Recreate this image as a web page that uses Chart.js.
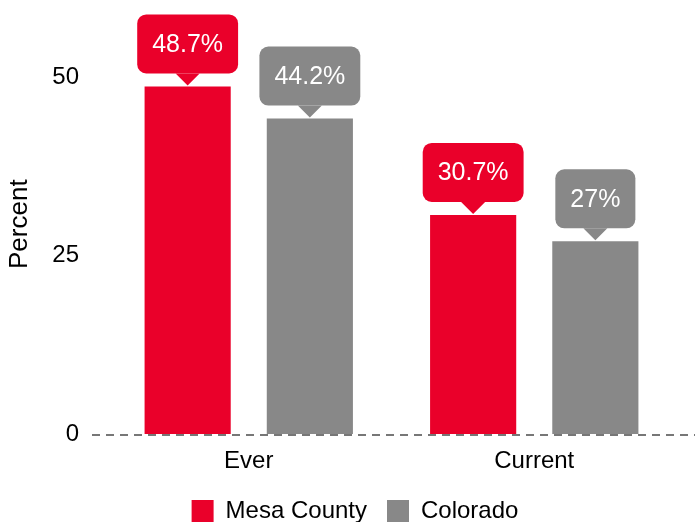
<!DOCTYPE html>
<html>
<head>
<meta charset="utf-8">
<script src="https://cdn.jsdelivr.net/npm/chart.js@4.4.0/dist/chart.umd.min.js"></script>
<style>
  html, body { margin: 0; padding: 0; background: #fff; overflow: hidden; }
  #wrap { width: 695px; height: 533px; position: relative; }
</style>
</head>
<body>
<div id="wrap"><canvas id="chart"></canvas></div>
<script>
const categories = ["Ever", "Current"];
const mesaCounty = [48.7, 30.7];
const colorado = [44.2, 27];
const mesaLabels = ["48.7%", "30.7%"];
const coloradoLabels = ["44.2%", "27%"];
const yTicks = [0, 25, 50];

const RED = "#EA002A";
const GRAY = "#888888";
const FONT = "'Liberation Sans', Arial, sans-serif";

// callout bubbles sitting above each bar
const calloutPlugin = {
    id: "callouts",
    afterDatasetsDraw(chart) {
        const ctx = chart.ctx;
        const texts = [mesaLabels, coloradoLabels];
        ctx.save();
        ctx.font = "25px " + FONT;
        chart.data.datasets.forEach(function(ds, di) {
            chart.getDatasetMeta(di).data.forEach(function(bar, i) {
                const txt = texts[di][i];
                const w = ctx.measureText(txt).width + 30;
                const h = 59;
                const tip = bar.y - 1;
                const bottom = tip - 12;
                const top = bottom - h;
                const left = bar.x - w / 2;
                ctx.fillStyle = ds.backgroundColor;
                ctx.beginPath();
                ctx.roundRect(left, top, w, h, 9);
                ctx.fill();
                ctx.beginPath();
                ctx.moveTo(bar.x - 12, bottom);
                ctx.lineTo(bar.x + 12, bottom);
                ctx.lineTo(bar.x, tip);
                ctx.closePath();
                ctx.fill();
                ctx.fillStyle = "#fff";
                ctx.textAlign = "center";
                ctx.textBaseline = "middle";
                ctx.fillText(txt, bar.x, top + h / 2 + 1);
            });
        });
        ctx.restore();
    }
};

// dashed zero line running across to the right edge
const baselinePlugin = {
    id: "baseline",
    afterDatasetsDraw(chart) {
        const ctx = chart.ctx;
        const y = chart.scales.y.getPixelForValue(0) + 1;
        ctx.save();
        ctx.strokeStyle = "#777";
        ctx.lineWidth = 2;
        ctx.setLineDash([8, 6]);
        ctx.beginPath();
        ctx.moveTo(chart.chartArea.left - 14, y);
        ctx.lineTo(chart.width, y);
        ctx.stroke();
        ctx.restore();
    }
};

new Chart(document.getElementById("chart"), {
    type: "bar",
    data: {
        labels: categories,
        datasets: [
            { label: "Mesa County", data: mesaCounty, backgroundColor: RED },
            { label: "Colorado", data: colorado, backgroundColor: GRAY }
        ]
    },
    options: {
        responsive: true,
        maintainAspectRatio: false,
        animation: false,
        datasets: { bar: { categoryPercentage: 0.856, barPercentage: 0.705 } },
        layout: { padding: { left: 15, right: 0, top: 0, bottom: 0 } },
        plugins: {
            legend: {
                position: "bottom",
                labels: {
                    boxWidth: 22, boxHeight: 22, padding: 20,
                    color: "#000", font: { family: FONT, size: 24 }
                }
            },
            tooltip: { enabled: false }
        },
        scales: {
            x: {
                grid: { display: false },
                border: { display: false },
                afterFit(axis) { axis.height = 45; },
                ticks: { color: "#000", padding: 5, font: { family: FONT, size: 24 } }
            },
            y: {
                min: 0,
                max: 58.8,
                grid: { display: false, tickLength: 27 },
                border: { display: false },
                afterBuildTicks(axis) {
                    axis.ticks = yTicks.map(v => ({ value: v }));
                },
                afterFit(axis) { axis.width = 91; },
                ticks: { color: "#000", padding: 0, font: { family: FONT, size: 24 } },
                title: {
                    display: true, text: "Percent", color: "#000",
                    padding: { top: -11, bottom: 4 },
                    font: { family: FONT, size: 26 }
                }
            },
            // empty spacer on the right
            yRight: {
                position: "right",
                grid: { display: false },
                border: { display: false },
                ticks: { display: false },
                afterFit(axis) { axis.width = 18; }
            }
        }
    },
    plugins: [calloutPlugin, baselinePlugin]
});
</script>
</body>
</html>
